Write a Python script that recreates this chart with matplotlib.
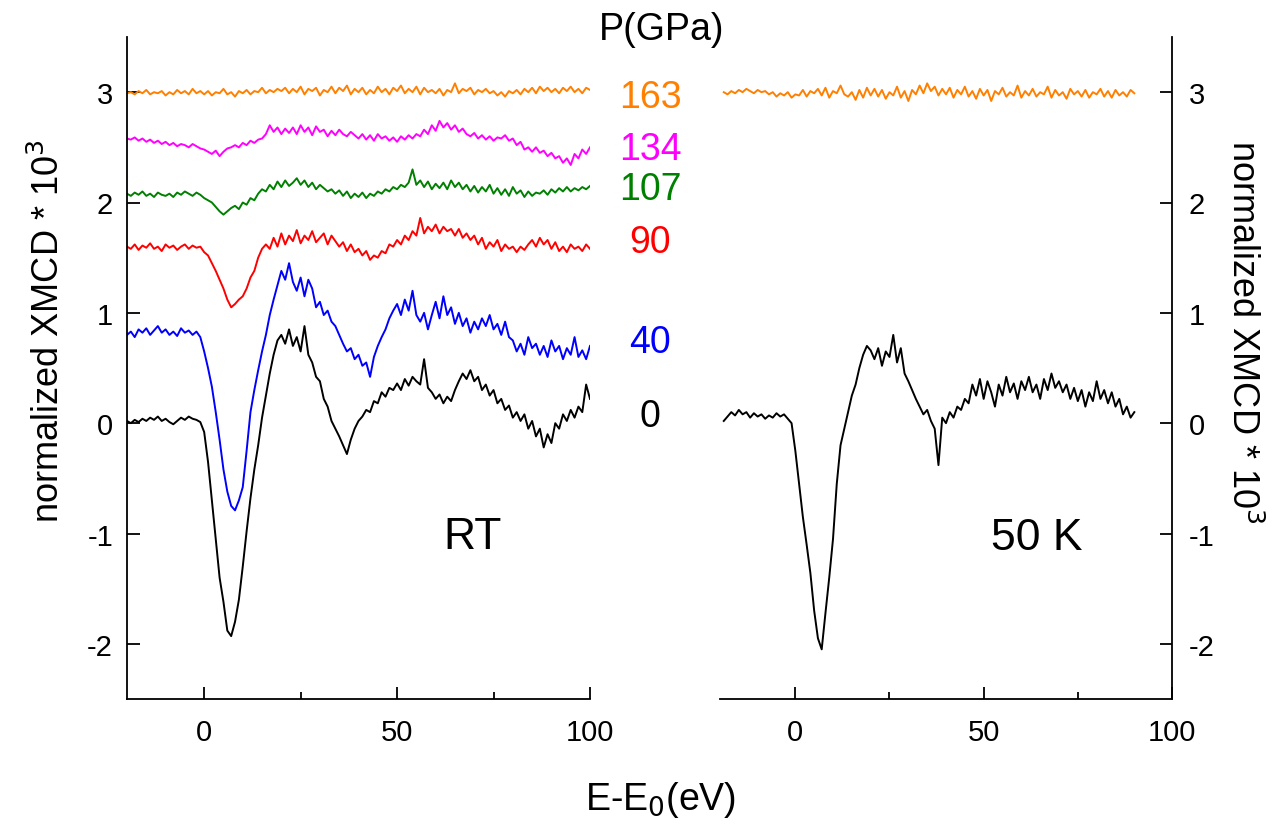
import numpy as np
import matplotlib.pyplot as plt
from matplotlib.ticker import MultipleLocator

plt.rcParams['font.family'] = ['Liberation Sans', 'DejaVu Sans']
plt.rcParams['axes.unicode_minus'] = False

# energy grids (eV)
e_rt = np.arange(-20, 101)
e_50k = np.arange(-19, 91)

# RT spectra, one value per eV from -20 to 100
rt_0 = [0.02, 0.00, 0.03, 0.01, 0.04, 0.02, 0.05, 0.03, 0.06, 0.02,
        0.04, 0.01, -0.01, 0.02, 0.05, 0.03, 0.06, 0.04, 0.03, 0.01,
        -0.08, -0.35, -0.70, -1.05, -1.40, -1.62, -1.88, -1.93, -1.80, -1.60,
        -1.30, -0.98, -0.68, -0.42, -0.20, 0.05, 0.25, 0.45, 0.62, 0.75,
        0.80, 0.72, 0.85, 0.70, 0.78, 0.65, 0.88, 0.62, 0.55, 0.42,
        0.38, 0.22, 0.15, 0.02, -0.05, -0.12, -0.20, -0.28, -0.15, -0.05,
        0.02, 0.06, 0.12, 0.10, 0.20, 0.18, 0.28, 0.24, 0.32, 0.30,
        0.36, 0.30, 0.40, 0.34, 0.42, 0.38, 0.35, 0.58, 0.32, 0.28,
        0.22, 0.26, 0.18, 0.24, 0.20, 0.30, 0.38, 0.45, 0.40, 0.48,
        0.38, 0.42, 0.30, 0.35, 0.25, 0.30, 0.18, 0.22, 0.12, 0.16,
        0.05, 0.10, 0.02, 0.08, -0.05, 0.02, -0.12, -0.05, -0.22, -0.10,
        -0.18, 0.00, -0.05, 0.08, 0.02, 0.12, 0.05, 0.15, 0.10, 0.35,
        0.22]
rt_40 = [0.80, 0.83, 0.78, 0.85, 0.82, 0.86, 0.80, 0.84, 0.88, 0.82,
         0.85, 0.80, 0.83, 0.79, 0.86, 0.82, 0.84, 0.80, 0.83, 0.78,
         0.65, 0.50, 0.33, 0.10, -0.15, -0.42, -0.62, -0.75, -0.79, -0.70,
         -0.58, -0.25, 0.10, 0.30, 0.48, 0.65, 0.80, 0.98, 1.12, 1.25,
         1.38, 1.30, 1.45, 1.28, 1.20, 1.32, 1.15, 1.30, 1.22, 1.05,
         1.10, 0.98, 1.02, 0.92, 0.88, 0.80, 0.72, 0.65, 0.68, 0.58,
         0.62, 0.52, 0.55, 0.42, 0.60, 0.70, 0.78, 0.85, 0.95, 1.02,
         1.08, 0.98, 1.12, 1.02, 1.20, 0.98, 0.92, 1.00, 0.85, 0.98,
         1.10, 0.95, 1.15, 0.98, 1.05, 0.90, 1.00, 0.88, 0.95, 0.82,
         0.92, 0.85, 0.95, 0.88, 0.98, 0.85, 0.90, 0.80, 0.92, 0.78,
         0.75, 0.65, 0.72, 0.62, 0.78, 0.68, 0.72, 0.62, 0.70, 0.60,
         0.75, 0.65, 0.70, 0.58, 0.68, 0.62, 0.78, 0.60, 0.66, 0.58,
         0.70]
rt_90 = [1.60, 1.58, 1.62, 1.57, 1.61, 1.59, 1.63, 1.58, 1.60, 1.56,
         1.62, 1.59, 1.61, 1.57, 1.60, 1.62, 1.58, 1.61, 1.59, 1.60,
         1.55, 1.52, 1.45, 1.38, 1.30, 1.22, 1.12, 1.05, 1.08, 1.12,
         1.15, 1.22, 1.32, 1.38, 1.50, 1.58, 1.62, 1.58, 1.68, 1.60,
         1.72, 1.62, 1.70, 1.65, 1.75, 1.63, 1.70, 1.66, 1.74, 1.64,
         1.68, 1.72, 1.62, 1.70, 1.65, 1.60, 1.64, 1.56, 1.62, 1.55,
         1.58, 1.52, 1.56, 1.48, 1.52, 1.50, 1.56, 1.54, 1.62, 1.60,
         1.66, 1.62, 1.70, 1.66, 1.74, 1.70, 1.86, 1.72, 1.78, 1.74,
         1.80, 1.72, 1.78, 1.74, 1.76, 1.70, 1.76, 1.68, 1.72, 1.66,
         1.70, 1.62, 1.68, 1.58, 1.64, 1.60, 1.66, 1.56, 1.62, 1.58,
         1.60, 1.55, 1.60, 1.57, 1.62, 1.66, 1.60, 1.68, 1.62, 1.66,
         1.58, 1.64, 1.56, 1.60, 1.55, 1.62, 1.58, 1.60, 1.56, 1.62,
         1.58]
rt_107 = [2.08, 2.06, 2.09, 2.07, 2.10, 2.06, 2.08, 2.05, 2.09, 2.07,
          2.06, 2.08, 2.05, 2.09, 2.07, 2.10, 2.08, 2.06, 2.09, 2.07,
          2.04, 2.02, 2.00, 1.96, 1.92, 1.89, 1.92, 1.95, 1.97, 1.94,
          2.00, 1.98, 2.04, 2.02, 2.08, 2.12, 2.10, 2.16, 2.12, 2.19,
          2.14, 2.20, 2.15, 2.18, 2.22, 2.16, 2.20, 2.14, 2.18, 2.12,
          2.16, 2.13, 2.10, 2.12, 2.08, 2.11, 2.06, 2.10, 2.04, 2.08,
          2.05, 2.09, 2.04, 2.08, 2.06, 2.10, 2.08, 2.12, 2.10, 2.14,
          2.12, 2.16, 2.14, 2.18, 2.30, 2.16, 2.20, 2.14, 2.19, 2.12,
          2.17, 2.13, 2.18, 2.12, 2.20, 2.14, 2.18, 2.12, 2.16, 2.10,
          2.15, 2.09, 2.14, 2.10, 2.16, 2.08, 2.13, 2.07, 2.12, 2.06,
          2.14, 2.08, 2.11, 2.05, 2.10, 2.06, 2.09, 2.08, 2.11, 2.07,
          2.12, 2.09, 2.13, 2.10, 2.14, 2.10, 2.13, 2.11, 2.14, 2.12,
          2.15]
rt_134 = [2.58, 2.57, 2.59, 2.56, 2.58, 2.55, 2.57, 2.54, 2.56, 2.53,
          2.55, 2.52, 2.54, 2.51, 2.53, 2.52, 2.50, 2.53, 2.51, 2.49,
          2.48, 2.46, 2.44, 2.47, 2.42, 2.46, 2.49, 2.50, 2.52, 2.50,
          2.54, 2.52, 2.56, 2.54, 2.57, 2.58, 2.62, 2.70, 2.64, 2.68,
          2.62, 2.67, 2.63, 2.68, 2.62, 2.70, 2.64, 2.68, 2.61, 2.69,
          2.64, 2.66, 2.60, 2.65, 2.61, 2.66, 2.62, 2.60, 2.64, 2.61,
          2.58, 2.62, 2.57, 2.61, 2.56, 2.62, 2.58, 2.60, 2.56, 2.59,
          2.55, 2.60, 2.57, 2.61, 2.58, 2.62, 2.60, 2.66, 2.62, 2.70,
          2.65, 2.74, 2.68, 2.72, 2.66, 2.70, 2.64, 2.67, 2.62, 2.60,
          2.63, 2.58, 2.61, 2.57, 2.60, 2.56, 2.59, 2.58, 2.61, 2.56,
          2.58, 2.52, 2.55, 2.48, 2.50, 2.46, 2.50, 2.45, 2.47, 2.42,
          2.45, 2.40, 2.42, 2.36, 2.40, 2.34, 2.44, 2.40, 2.48, 2.44,
          2.50]
rt_163 = [2.99, 3.00, 2.98, 3.01, 2.99, 3.02, 2.98, 3.00, 2.99, 3.01,
          2.97, 3.00, 2.98, 3.02, 2.99, 3.01, 2.98, 3.03, 2.99, 3.01,
          2.98, 3.01, 2.97, 3.00, 2.99, 3.03, 2.98, 3.00, 2.96, 3.01,
          2.99, 3.02, 2.98, 3.01, 3.00, 3.04, 2.99, 3.02, 3.00, 3.03,
          3.01, 3.04, 2.99, 3.03, 3.00, 3.05, 2.98, 3.03, 3.01, 3.04,
          2.97, 3.02, 3.00, 3.05, 2.99, 3.04, 3.01, 3.06, 2.98, 3.03,
          3.00, 3.04, 2.98, 3.02, 2.99, 3.05, 3.00, 3.03, 2.98, 3.04,
          3.01, 3.06, 2.99, 3.03, 3.00, 3.05, 2.98, 3.04, 3.00, 3.02,
          2.99, 3.03, 2.97, 3.02, 3.00, 3.08, 2.99, 3.03, 3.01, 3.04,
          2.98, 3.02, 3.00, 3.03, 2.99, 3.01, 2.97, 3.00, 2.96, 3.01,
          2.99, 3.02, 2.98, 3.03, 3.00, 3.04, 2.99, 3.05, 3.01, 3.04,
          3.00, 3.03, 2.99, 3.04, 3.01, 3.05, 3.00, 3.03, 2.99, 3.04,
          3.02]

# 50 K spectra, one value per eV from -19 to 90
lt_0 = [0.02, 0.06, 0.10, 0.07, 0.12, 0.08, 0.10, 0.05, 0.09, 0.06,
        0.08, 0.04, 0.07, 0.05, 0.09, 0.06, 0.08, 0.04, 0.00, -0.25,
        -0.55, -0.85, -1.10, -1.36, -1.70, -1.95, -2.05, -1.72, -1.40, -1.05,
        -0.55, -0.20, -0.05, 0.10, 0.25, 0.35, 0.50, 0.62, 0.70, 0.66,
        0.58, 0.68, 0.52, 0.65, 0.60, 0.80, 0.55, 0.68, 0.45, 0.38,
        0.30, 0.22, 0.15, 0.08, 0.12, 0.02, -0.05, -0.38, 0.05, 0.00,
        0.10, 0.05, 0.15, 0.12, 0.22, 0.18, 0.35, 0.25, 0.40, 0.22,
        0.38, 0.28, 0.15, 0.35, 0.25, 0.42, 0.28, 0.36, 0.22, 0.38,
        0.30, 0.42, 0.28, 0.35, 0.22, 0.40, 0.30, 0.45, 0.32, 0.38,
        0.28, 0.35, 0.22, 0.32, 0.20, 0.30, 0.15, 0.28, 0.20, 0.38,
        0.22, 0.30, 0.18, 0.28, 0.15, 0.22, 0.08, 0.15, 0.05, 0.10]
lt_163 = [3.00, 2.98, 3.01, 2.99, 3.02, 3.00, 3.03, 3.01, 2.99, 3.02,
          3.00, 3.01, 2.98, 3.00, 2.96, 2.99, 2.97, 3.00, 2.95, 2.98,
          2.97, 3.02, 2.96, 3.01, 2.99, 3.03, 2.97, 3.04, 2.95, 3.01,
          2.99, 3.06, 2.98, 2.96, 3.00, 2.93, 3.02, 2.95, 3.04, 2.97,
          3.03, 2.96, 3.02, 2.94, 3.00, 2.97, 3.05, 2.95, 3.01, 2.92,
          3.02, 2.98, 3.06, 2.99, 3.08, 3.01, 3.05, 2.97, 3.03, 2.98,
          3.04, 2.95, 3.02, 2.98, 3.05, 2.96, 3.01, 2.94, 3.03, 2.97,
          3.02, 2.92, 3.01, 2.98, 3.04, 2.96, 3.00, 2.97, 3.06, 2.95,
          3.01, 2.97, 3.03, 2.96, 3.00, 2.98, 3.05, 2.95, 3.02, 2.97,
          3.00, 2.94, 3.03, 2.98, 3.01, 2.96, 3.02, 2.95, 3.00, 2.98,
          3.03, 2.96, 3.01, 2.95, 3.02, 2.97, 3.00, 2.96, 3.02, 2.99]

pressures = ["163", "134", "107", "90", "40", "0"]
colors = ["#ff8000", "#ff00ff", "#008000", "#ff0000", "#0000ff", "black"]
label_y = [0.882, 0.819, 0.771, 0.707, 0.586, 0.497]

W, H = 1277, 829
fig = plt.figure(figsize=(W / 100, H / 100), dpi=100)
ax1 = fig.add_axes([127 / W, 1 - 700 / H, 463 / W, 662 / H])
ax2 = fig.add_axes([720 / W, 1 - 700 / H, 452 / W, 662 / H])

rt_curves = [rt_163, rt_134, rt_107, rt_90, rt_40, rt_0]
for y, c in zip(rt_curves, colors):
    ax1.plot(e_rt, y, color=c, lw=1.4)

ax2.plot(e_50k, lt_163, color=colors[0], lw=1.4)
ax2.plot(e_50k, lt_0, color="black", lw=1.4)

for ax in (ax1, ax2):
    ax.set_xlim(-20, 100)
    ax.set_ylim(-2.5, 3.5)
    ax.xaxis.set_major_locator(MultipleLocator(50))
    ax.xaxis.set_minor_locator(MultipleLocator(25))
    ax.yaxis.set_major_locator(MultipleLocator(1))
    ax.spines["top"].set_visible(False)
    for s in ax.spines.values():
        s.set_linewidth(1.3)
    ax.tick_params(axis="both", which="both", direction="in", labelsize=21, width=1.3)
    ax.tick_params(axis="both", which="major", length=9)
    ax.tick_params(axis="x", which="minor", length=5)
    ax.tick_params(axis="x", pad=14)

ax1.spines["right"].set_visible(False)
ax1.tick_params(axis="y", pad=10)
ax2.spines["left"].set_visible(False)
ax2.yaxis.tick_right()
ax2.tick_params(axis="y", pad=12)

ax1.text(69.5, -1.03, "RT", fontsize=32, ha="center", va="center")
ax2.text(64, -1.04, "50 K", fontsize=32, ha="center", va="center")

fig.text(0.518, 0.964, "P(GPa)", fontsize=27, ha="center", va="center")
for p, c, yy in zip(pressures, colors, label_y):
    fig.text(0.509, yy, p, color=c, fontsize=27, ha="center", va="center")

fig.text(0.517, 0.035, "E-E$_0$(eV)", fontsize=27, ha="center", va="center")
fig.text(0.038, 0.60, "normalized XMCD * 10$^3$", fontsize=26, rotation=90,
         ha="center", va="center")
fig.text(0.973, 0.60, "normalized XMCD * 10$^3$", fontsize=26, rotation=270,
         ha="center", va="center")

fig.savefig("out.png", dpi=100)
